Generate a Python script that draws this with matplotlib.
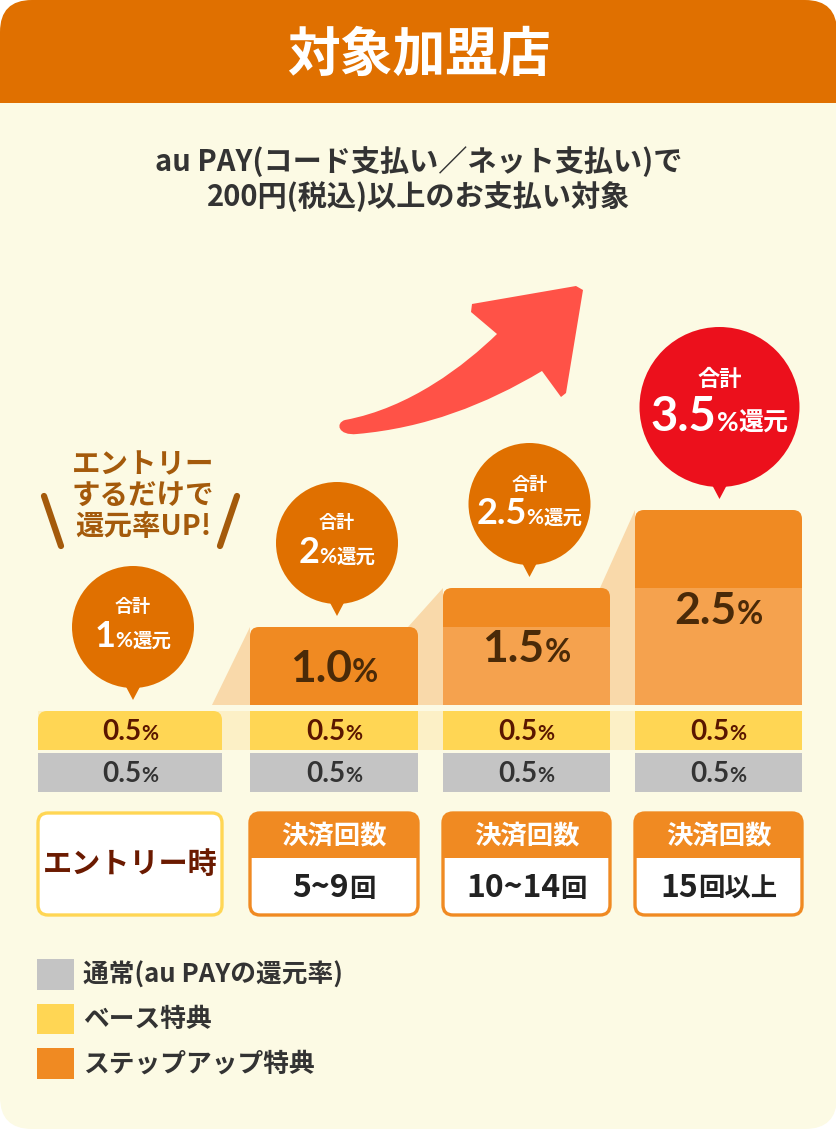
import re
import matplotlib
matplotlib.use("Agg")
import matplotlib.pyplot as plt
from matplotlib.patches import FancyBboxPatch, Rectangle, Circle, Polygon, PathPatch, Patch
from matplotlib.path import Path
from matplotlib.transforms import IdentityTransform, ScaledTranslation

plt.rcParams['font.family'] = ['Noto Sans CJK JP', 'DejaVu Sans']
CJK = ['Noto Sans CJK JP', 'DejaVu Sans']
NUM = ['Lato', 'Noto Sans CJK JP', 'DejaVu Sans']

# データ
title = "対象加盟店"
subtitle = ["au PAY(コード支払い／ネット支払い)で", "200円(税込)以上のお支払い対象"]
column_labels = ["エントリー時", "5~9回", "10~14回", "15回以上"]
count_header = "決済回数"
normal_rate = [0.5, 0.5, 0.5, 0.5]     # 通常
base_rate = [0.5, 0.5, 0.5, 0.5]       # ベース特典
step_prev = [0.0, 0.0, 1.0, 1.5]       # ステップアップ（前の段階ぶん）
step_add = [0.0, 1.0, 0.5, 1.0]        # ステップアップ（上乗せ）
legend_labels = ["通常(au PAYの還元率)", "ベース特典", "ステップアップ特典"]
entry_note = ["エントリー", "するだけで", "還元率UP!"]

total_rate = [n + b + p + a for n, b, p, a in zip(normal_rate, base_rate, step_prev, step_add)]
step_total = [p + a for p, a in zip(step_prev, step_add)]

# 色
BG = "#FCFAE4"
HEADER = "#E07000"
GRAY = "#C4C4C4"
YELLOW = "#FFD654"
ORANGE = "#F08A22"
ORANGE_LIGHT = "#F5A24E"
SHADOW = "#F9D9AA"
PALE_YELLOW = "#FCF0C6"
RED = "#EC101C"
ARROW = "#FF5247"
BROWN = "#A45A0B"

# レイアウト（ピクセル）
W, H = 837, 1129
PX_PER_PCT = 78
BASE_PX = 792
COL_X = [130, 334, 526.5, 718.5]
COL_W = [184, 168, 167, 167]
GAP_LOW = 3 / PX_PER_PCT
GAP_HIGH = 6 / PX_PER_PCT

fig = plt.figure(figsize=(W / 100, H / 100), dpi=100, facecolor="white")

# 背景用の軸（ピクセル座標、y下向き）
deco = fig.add_axes([0, 0, 1, 1], zorder=0)
deco.set_xlim(0, W)
deco.set_ylim(H, 0)
deco.axis("off")

# 棒グラフ用の軸（y は %）
ax = fig.add_axes([0, 0, 1, 1], zorder=1)
ax.set_xlim(0, W)
ax.set_ylim((BASE_PX - H) / PX_PER_PCT, BASE_PX / PX_PER_PCT)
ax.axis("off")
ax.patch.set_alpha(0)


def runs_text(axes, runs, x, y, transform, color, zorder=6):
    # 大きさの違う文字列を横に並べて中央揃え（ベースライン揃え）
    texts = [axes.text(x, y, s, fontsize=size, family=fam, fontweight="bold", color=color,
                       ha="left", va="baseline", transform=transform, zorder=zorder)
             for s, size, fam in runs]
    r = fig.canvas.get_renderer()
    widths = [t.get_window_extent(r).width for t in texts]
    cur = x - sum(widths) / 2
    for t, w in zip(texts, widths):
        t.set_x(cur)
        cur += w
    return texts


# パネルとヘッダー
deco.add_patch(FancyBboxPatch((0, 0), W, H, boxstyle="round,pad=0,rounding_size=32",
                              fc=BG, ec="none"))
deco.add_patch(FancyBboxPatch((0, 0), W, 150, boxstyle="round,pad=0,rounding_size=32",
                              fc=HEADER, ec="none"))
deco.add_patch(Rectangle((0, 103), W, 60, fc=BG, ec="none"))
deco.text(W / 2, 55, title, fontsize=38, fontweight="bold", color="white",
          ha="center", va="center")
for i, line in enumerate(subtitle):
    deco.text(W / 2, 162 + 35 * i, line, fontsize=21, fontweight="bold", color="#333333",
              ha="center", va="center")

# 矢印
verts = [(345, 420), (410, 408), (465, 365), (497, 334),
         (471, 312), (472, 304), (576, 286), (583, 290), (566, 393), (561, 397), (542, 371),
         (485, 405), (425, 428), (357, 434),
         (338, 436), (335, 423), (345, 420), (345, 420)]
codes = [Path.MOVETO, Path.CURVE4, Path.CURVE4, Path.CURVE4,
         Path.LINETO, Path.LINETO, Path.LINETO, Path.LINETO, Path.LINETO, Path.LINETO, Path.LINETO,
         Path.CURVE4, Path.CURVE4, Path.CURVE4,
         Path.CURVE4, Path.CURVE4, Path.CURVE4, Path.CLOSEPOLY]
deco.add_patch(PathPatch(Path(verts, codes), fc=ARROW, ec="none"))

# エントリーするだけで還元率UP!
for i, line in enumerate(entry_note):
    deco.text(143, 465 + 31 * i, line, fontsize=20.5, fontweight="bold", color=BROWN,
              ha="center", va="center")
deco.plot([44, 61], [496, 546], color=BROWN, lw=4.5, solid_capstyle="round")
deco.plot([237, 220], [496, 546], color=BROWN, lw=4.5, solid_capstyle="round")

# 棒
gray = ax.bar(COL_X, normal_rate, width=COL_W, bottom=0, color=GRAY, lw=0, zorder=3)
yellow_bottom = [n + GAP_LOW for n in normal_rate]
yellow = ax.bar(COL_X, base_rate, width=COL_W, bottom=yellow_bottom, color=YELLOW, lw=0, zorder=3)
step_bottom = [yb + b + GAP_HIGH for yb, b in zip(yellow_bottom, base_rate)]
prev = ax.bar(COL_X, step_prev, width=COL_W, bottom=step_bottom, color=ORANGE_LIGHT, lw=0, zorder=3)
add_bottom = [sb + p for sb, p in zip(step_bottom, step_prev)]
add = ax.bar(COL_X, step_add, width=COL_W, bottom=add_bottom, color=ORANGE, lw=0, zorder=3)

# 一番上の棒は上の角を丸める
tops = []
for i in range(len(COL_X)):
    rect = add[i] if step_add[i] > 0 else yellow[i]
    x, y, w, h = rect.get_x(), rect.get_y(), rect.get_width(), rect.get_height()
    rect.set_visible(False)
    ax.add_patch(FancyBboxPatch((x, y), w, h, boxstyle="round,pad=0,rounding_size=9",
                                mutation_aspect=1 / PX_PER_PCT, fc=rect.get_facecolor(),
                                ec="none", zorder=3))
    ax.add_patch(Rectangle((x, y), w, h / 2, fc=rect.get_facecolor(), ec="none", zorder=3))
    tops.append(y + h)

# ベース特典の帯と段差の影
left0 = gray[0].get_x()
right3 = gray[-1].get_x() + gray[-1].get_width()
ax.axhspan(yellow_bottom[0], yellow_bottom[0] + base_rate[0], xmin=left0 / W, xmax=right3 / W,
           color=PALE_YELLOW, lw=0, zorder=1)
for i in range(1, len(COL_X)):
    x0 = gray[i - 1].get_x() + gray[i - 1].get_width() - 10
    x1 = gray[i].get_x()
    y0 = max(tops[i - 1], step_bottom[i])
    ax.add_patch(Polygon([(x0, y0), (x1, tops[i]), (x1, step_bottom[i]), (x0, step_bottom[i])],
                         closed=True, fc=SHADOW, ec="none", zorder=2))


def at(x, y):
    # データ点を原点にしたピクセル単位の座標
    return IdentityTransform() + ScaledTranslation(x, y, ax.transData)


# 棒のラベル
for i in range(len(COL_X)):
    runs_text(ax, [(f"{normal_rate[i]:.1f}", 20, NUM), ("%", 15, NUM)],
              0, -10, at(COL_X[i], normal_rate[i] / 2), "#333333")
    runs_text(ax, [(f"{base_rate[i]:.1f}", 20, NUM), ("%", 15, NUM)],
              0, -10, at(COL_X[i], yellow_bottom[i] + base_rate[i] / 2), "#5A1600")
    if step_total[i] > 0:
        runs_text(ax, [(f"{step_total[i]:.1f}", 32, NUM), ("%", 23, NUM)],
                  0, -16, at(COL_X[i], step_bottom[i] + step_total[i] / 2), "#4A2A08")

# 吹き出し
for i in range(len(COL_X)):
    big = i == len(COL_X) - 1
    r = 80 if big else 61
    color = RED if big else HEADER
    tr = at(COL_X[i], tops[i])
    dx = 1 if big else 3
    cy = 11 + 12 + r
    ax.add_patch(Circle((dx, cy), r, transform=tr, fc=color, ec="none", zorder=5))
    ax.add_patch(Polygon([(dx - 9, 28), (dx + 9, 28), (dx, 11)], closed=True, transform=tr,
                         fc=color, ec="none", zorder=5))
    if big:
        ax.text(dx, cy + 27, "合計", fontsize=16, fontweight="bold", color="white",
                ha="center", va="center", transform=tr, zorder=6)
        runs_text(ax, [(f"{total_rate[i]:g}", 34, NUM), ("%", 19, NUM), ("還元", 18, CJK)],
                  dx, cy - 24, tr, "white")
    else:
        ax.text(dx, cy + 20, "合計", fontsize=13, fontweight="bold", color="white",
                ha="center", va="center", transform=tr, zorder=6)
        runs_text(ax, [(f"{total_rate[i]:g}", 26, NUM), ("%", 15, NUM), ("還元", 14, CJK)],
                  dx, cy - 20, tr, "white")

# 下の段のラベル
for i in range(len(COL_X)):
    x = gray[i].get_x()
    w = gray[i].get_width()
    if i == 0:
        deco.add_patch(FancyBboxPatch((x, 813), w, 102, boxstyle="round,pad=0,rounding_size=10",
                                      fc="white", ec=YELLOW, lw=2.4))
        deco.text(x + w / 2, 864, column_labels[i], fontsize=21, fontweight="bold",
                  color="#6B1A00", ha="center", va="center")
    else:
        box = FancyBboxPatch((x, 813), w, 102, boxstyle="round,pad=0,rounding_size=10",
                             fc="white", ec="none")
        deco.add_patch(box)
        band = Rectangle((x, 813), w, 45, fc=ORANGE, ec="none")
        deco.add_patch(band)
        band.set_clip_path(box)
        deco.add_patch(FancyBboxPatch((x, 813), w, 102, boxstyle="round,pad=0,rounding_size=10",
                                      fc="none", ec=ORANGE, lw=2.4))
        deco.text(x + w / 2, 836, count_header, fontsize=19, fontweight="bold", color="white",
                  ha="center", va="center")
        m = re.match(r"([\d~]+)(.*)", column_labels[i])
        runs_text(deco, [(m.group(1), 23, CJK), (m.group(2), 19, CJK)],
                  x + w / 2, 897, deco.transData, "#222222")

# 凡例
handles = [Patch(fc=c, ec="none") for c in [GRAY, YELLOW, ORANGE]]
leg = deco.legend(handles, legend_labels, loc="upper left", bbox_to_anchor=(37 / W, 1 - 959 / H),
                  bbox_transform=fig.transFigure, frameon=False, fontsize=18.5, borderpad=0,
                  borderaxespad=0, handlelength=1.45, handleheight=1.45, handletextpad=0.35,
                  labelspacing=0.55)
for t in leg.get_texts():
    t.set_color("#333333")
    t.set_fontweight("bold")

fig.savefig("out.png", dpi=100, facecolor="white")
